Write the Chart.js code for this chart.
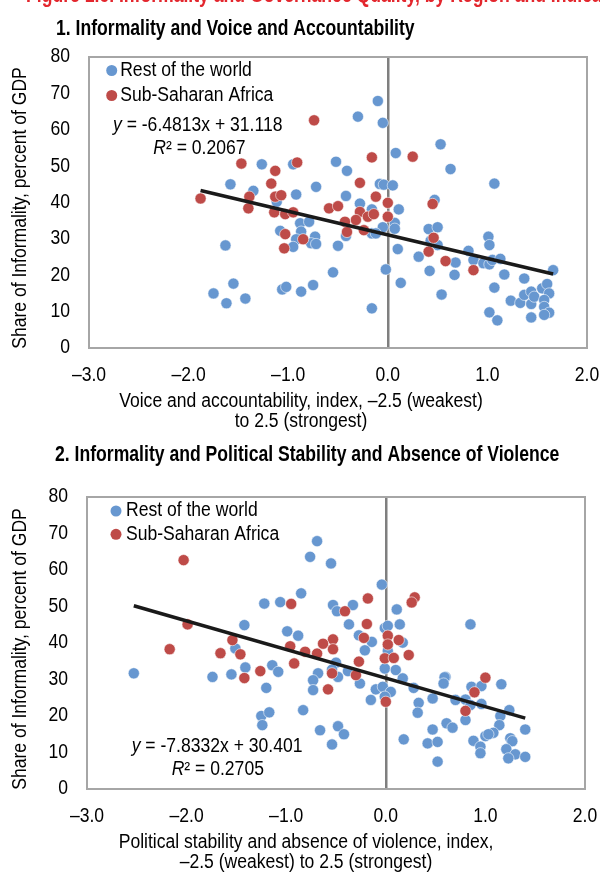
<!DOCTYPE html>
<html>
<head>
<meta charset="utf-8">
<script src="https://cdn.jsdelivr.net/npm/chart.js@4.4.1/dist/chart.umd.min.js"></script>
<style>
  body { margin: 0; background: #fff; width: 600px; height: 876px; overflow: hidden; position: relative; }
  .box { position: absolute; left: 0; width: 600px; height: 438px; }
</style>
</head>
<body>
<div class="box" style="top:0"><canvas id="chart-va" width="600" height="438"></canvas></div>
<div class="box" style="top:438px"><canvas id="chart-ps" width="600" height="438"></canvas></div>
<script>
// tick labels
const xTickLabels = ['–3.0', '–2.0', '–1.0', '0.0', '1.0', '2.0'];
const seriesNames = ['Rest of the world', 'Sub-Saharan Africa'];

// 1. voice and accountability  [index, share of informality]
const vaRest = [[-1.265,50.5],[-0.95,50.5],[-0.52,51.2],[-0.41,48.7],[-1.58,45.0],[-1.35,43.2],[-0.72,44.3],[-0.92,42.2],
  [-0.42,41.8],[-1.115,40.2],[-0.88,34.3],[-0.79,34.7],[-1.08,32.2],[-0.87,32.0],[-0.92,29.9],[-0.73,30.6],[-0.77,28.8],
  [-0.72,28.6],[-0.95,27.8],[-0.50,28.1],[-1.63,28.2],[-0.55,20.8],[-1.55,17.7],[-1.75,15.0],[-1.62,12.3],[-1.43,13.6],
  [-1.06,16.1],[-1.02,16.8],[-0.87,15.5],[-0.75,17.3],[-0.10,67.9],[-0.30,63.6],[-0.05,61.9],[0.08,53.6],[0.53,56.0],
  [0.63,49.2],[-0.08,45.1],[-0.04,44.9],[0.05,44.7],[1.07,45.2],[0.47,40.7],[-0.28,39.7],[-0.16,38.1],[0.11,38.1],
  [0.07,34.4],[0.07,32.8],[-0.05,33.2],[-0.16,31.5],[-0.12,31.5],[-0.42,30.8],[0.41,32.7],[0.50,33.2],[0.43,29.5],
  [0.50,28.3],[0.10,27.2],[0.31,25.1],[0.68,23.5],[0.81,26.7],[0.86,24.2],[1.01,30.6],[1.02,28.3],[0.96,23.3],
  [1.02,23.0],[1.05,24.2],[1.13,24.5],[-0.02,21.6],[0.42,21.2],[0.67,20.1],[1.17,20.2],[1.37,19.1],[1.66,21.4],
  [0.13,17.9],[1.07,16.6],[0.54,14.7],[-0.16,10.9],[1.235,13.0],[1.33,12.4],[1.37,14.6],[1.44,15.5],[1.44,12.1],
  [1.47,14.1],[1.55,16.4],[1.60,17.6],[1.62,15.0],[1.57,13.2],[1.57,11.3],[1.62,9.7],[1.57,9.1],[1.02,9.8],
  [1.10,7.6],[1.44,8.4]];
const vaSsa = [[-0.74,62.6],[-1.47,50.7],[-1.13,48.7],[-0.91,51.0],[-1.17,45.2],[-1.88,41.1],[-1.39,41.6],[-1.13,41.6],
  [-1.07,42.0],[-1.40,38.4],[-1.14,37.3],[-1.03,36.8],[-0.95,37.3],[-0.59,38.4],[-0.50,39.0],[-1.03,31.3],[-0.85,29.9],
  [-1.04,27.4],[0.25,52.6],[-0.16,52.4],[-0.28,45.4],[-0.12,41.6],[0.0,39.9],[0.45,39.6],[-0.28,37.4],[-0.20,36.1],
  [-0.14,36.8],[-0.32,35.2],[-0.43,34.7],[0.0,36.1],[-0.24,32.4],[-0.41,31.9],[0.46,30.3],[0.41,26.5],[0.58,23.9],
  [0.86,21.4]];
const vaFit = [-6.4813, 31.118];   // slope, intercept

// 2. political stability  [index, share of informality]
const psRest = [[-0.69,67.9],[-0.76,63.6],[-0.55,61.8],[-0.85,53.6],[-1.22,50.8],[-1.06,51.2],[-0.53,50.4],[-0.49,48.7],
  [-0.37,45.1],[-1.42,44.9],[-0.99,43.2],[-0.88,42.0],[-1.51,38.5],[-0.50,34.6],[-1.14,33.9],[-1.08,32.1],[-1.41,33.3],
  [-1.55,31.4],[-1.74,30.7],[-2.53,31.7],[-0.68,31.7],[-0.04,56.0],[0.11,49.2],[-0.33,50.4],[0.14,45.1],[-0.01,44.1],
  [0.02,44.7],[0.85,45.1],[0.17,40.1],[-0.27,42.1],[-0.14,40.3],[-0.21,38.0],[0.02,37.8],[-0.01,33.0],[0.10,32.6],
  [0.60,30.7],[-0.38,32.3],[0.17,30.3],[-0.48,30.7],[-0.54,32.7],[-0.73,29.8],[-0.73,27.1],[-0.26,28.9],[-0.10,27.3],
  [-0.03,28.0],[0.05,26.6],[-0.15,24.4],[-0.01,25.3],[0.28,27.7],[0.33,23.6],[0.32,20.9],[0.47,24.8],[0.59,30.6],
  [0.58,28.9],[0.70,24.4],[0.80,24.5],[0.86,28.0],[0.96,28.2],[1.16,28.7],[0.96,23.3],[0.85,23.0],[0.80,18.9],
  [1.24,21.6],[1.15,20.0],[1.40,16.3],[1.14,17.5],[1.08,15.4],[1.00,14.5],[1.03,15.0],[1.25,13.9],[1.27,13.1],
  [0.88,13.2],[0.95,11.6],[0.95,9.8],[1.21,10.9],[1.30,9.5],[1.23,8.4],[1.40,8.8],[0.61,18.0],[0.67,16.8],
  [0.47,16.3],[0.42,12.5],[0.52,12.9],[0.52,7.5],[0.18,13.6],[-0.66,16.1],[-0.48,17.2],[-0.42,15.0],[-0.54,12.2],
  [-0.83,21.6],[-1.20,27.7],[-1.25,20.0],[-1.17,21.0],[-1.24,17.5]];
const psSsa = [[-2.03,62.7],[-0.95,50.7],[-0.41,48.7],[-1.99,45.1],[-1.54,40.8],[-0.53,41.0],[-0.63,39.8],[-0.96,39.1],
  [-0.53,38.3],[-0.81,37.6],[-0.69,37.1],[-2.17,38.3],[-1.46,36.9],[-1.66,37.2],[-0.92,34.4],[-1.26,32.3],[-0.54,31.7],
  [-1.42,30.4],[0.29,52.5],[0.26,51.1],[-0.18,52.2],[-0.19,45.2],[0.02,42.0],[0.02,39.6],[0.13,40.8],[-0.22,41.4],
  [-0.01,35.8],[0.08,35.9],[0.23,36.7],[-0.27,34.9],[1.00,30.5],[-0.58,27.3],[-0.30,31.2],[0.0,23.9],[0.89,26.5],
  [0.80,21.4]];
const psFit = [-7.8332, 30.401];

const BLUE = '#6797d0';
const RED = '#be4b48';
const FAM = '"Liberation Sans", Arial, sans-serif';
const REG = '19.5px ' + FAM;   // squeezed to look like Arial Narrow
const K = 0.9;

function toPoints(arr) {
  return arr.map(p => ({ x: p[0], y: p[1] }));
}

// trend line across the x range of both series
function trendPoints(rest, ssa, fit) {
  const xs = rest.concat(ssa).map(p => p[0]);
  const lo = Math.min(...xs), hi = Math.max(...xs);
  return [{ x: lo, y: fit[0] * lo + fit[1] }, { x: hi, y: fit[0] * hi + fit[1] }];
}

// draw condensed text, returns drawn width
function txt(ctx, s, x, y, o) {
  ctx.save();
  ctx.translate(x, y);
  if (o.rot) ctx.rotate(o.rot);
  ctx.scale(o.k || K, 1);
  ctx.font = o.font || REG;
  ctx.textAlign = o.align || 'left';
  ctx.textBaseline = o.base || 'middle';
  ctx.fillStyle = o.color || '#000';
  ctx.fillText(s, 0, 0);
  const w = ctx.measureText(s).width * (o.k || K);
  ctx.restore();
  return w;
}

function drawTexts(chart, t) {
  const ctx = chart.ctx, a = chart.chartArea;
  const xs = chart.scales.x, ys = chart.scales.y;

  // tick labels from the library's scales
  xs.ticks.forEach((tk, i) => txt(ctx, xTickLabels[i], xs.getPixelForValue(tk.value), a.bottom + 27.5, { align: 'center' }));
  ys.ticks.forEach(tk => txt(ctx, String(tk.value), a.left - 19, ys.getPixelForValue(tk.value), { align: 'right' }));

  if (t.header) {
    txt(ctx, t.header, 26, 2, { font: 'bold 22px ' + FAM, k: 0.8, base: 'alphabetic', color: '#e3262d' });
  }
  txt(ctx, t.title, t.titleX, t.titleY, { font: 'bold 22px ' + FAM, k: 0.8 });

  txt(ctx, 'Share of Informality, percent of GDP', 21, t.yTitleY, { rot: -Math.PI / 2, align: 'center' });

  t.xTitle.forEach((line, i) => txt(ctx, line, t.xTitleX, a.bottom + 54 + i * 20, { align: 'center' }));

  // legend
  [BLUE, RED].forEach((c, i) => {
    const y = t.legY + i * t.legGap;
    ctx.save();
    ctx.fillStyle = c;
    ctx.beginPath();
    ctx.arc(t.legX, y, 5.5, 0, Math.PI * 2);
    ctx.fill();
    ctx.restore();
    txt(ctx, seriesNames[i], t.legX + t.legTx, y, {});
  });

  // regression equation
  let w = txt(ctx, 'y', t.eqX, t.eqY, { font: 'italic ' + REG });
  txt(ctx, ' = ' + t.fit[0] + 'x + ' + t.fit[1], t.eqX + w, t.eqY, {});
  w = txt(ctx, 'R', t.r2X, t.eqY + t.eqGap, { font: 'italic ' + REG });
  txt(ctx, '² = ' + t.r2, t.r2X + w, t.eqY + t.eqGap, {});
}

function makeChart(id, rest, ssa, fit, lay, texts) {
  const textPlugin = {
    id: 'texts',
    beforeDatasetsDraw(chart) {
      const a = chart.chartArea, c = chart.ctx;
      c.save();
      c.strokeStyle = '#a6a6a6';
      c.lineWidth = 2;
      c.strokeRect(a.left, a.top, a.right - a.left, a.bottom - a.top);
      c.restore();
    },
    afterDraw(chart) {
      drawTexts(chart, texts);
    }
  };

  return new Chart(document.getElementById(id), {
    type: 'scatter',
    data: {
      datasets: [
        { type: 'line', data: trendPoints(rest, ssa, fit), borderColor: '#1a1a1a', borderWidth: 3.5,
          pointRadius: 0, fill: false, tension: 0 },
        { label: seriesNames[1], data: toPoints(ssa), backgroundColor: RED, borderColor: 'rgba(255,255,255,0.7)',
          borderWidth: 0.8, pointRadius: 5.6 },
        { label: seriesNames[0], data: toPoints(rest), backgroundColor: BLUE, borderColor: 'rgba(255,255,255,0.7)',
          borderWidth: 0.8, pointRadius: 5.6 }
      ]
    },
    options: {
      responsive: false,
      animation: false,
      devicePixelRatio: 1,
      layout: { padding: { top: lay.top, right: lay.right, bottom: 0, left: 0 } },
      plugins: { legend: { display: false }, tooltip: { enabled: false } },
      scales: {
        x: {
          type: 'linear', min: -3, max: 2,
          ticks: { stepSize: 1, display: false },
          grid: { drawTicks: false, lineWidth: 2.5,
            color: c => (c.tick && c.tick.value === 0) ? '#7f7f7f' : 'rgba(0,0,0,0)' },
          border: { display: false },
          afterFit: s => { s.height = lay.xH; }
        },
        y: {
          min: 0, max: 80,
          ticks: { stepSize: 10, display: false },
          grid: { display: false, drawTicks: false },
          border: { display: false },
          afterFit: s => { s.width = lay.yW; }
        }
      }
    },
    plugins: [textPlugin]
  });
}

makeChart('chart-va', vaRest, vaSsa, vaFit,
  { top: 57, right: 13, xH: 90, yW: 89 },
  { header: 'Figure 1.6. Informality and Governance Quality, by Region and Indicator',
    title: '1. Informality and Voice and Accountability', titleX: 56, titleY: 29,
    yTitleY: 208, xTitle: ['Voice and accountability, index, –2.5 (weakest)', 'to 2.5 (strongest)'],
    xTitleX: 301, legX: 111.7, legY: 70.5, legGap: 25, legTx: 8.5, fit: vaFit, r2: '0.2067',
    eqX: 113, eqY: 125.5, eqGap: 23.3, r2X: 153.3 });

makeChart('chart-ps', psRest, psSsa, psFit,
  { top: 59, right: 15, xH: 87, yW: 87 },
  { title: '2. Informality and Political Stability and Absence of Violence', titleX: 55, titleY: 17,
    yTitleY: 211, xTitle: ['Political stability and absence of violence, index,', '–2.5 (weakest) to 2.5 (strongest)'],
    xTitleX: 306, legX: 116, legY: 73, legGap: 23.3, legTx: 10, fit: psFit, r2: '0.2705',
    eqX: 131.7, eqY: 308.7, eqGap: 22.6, r2X: 171.7 });
</script>
</body>
</html>
